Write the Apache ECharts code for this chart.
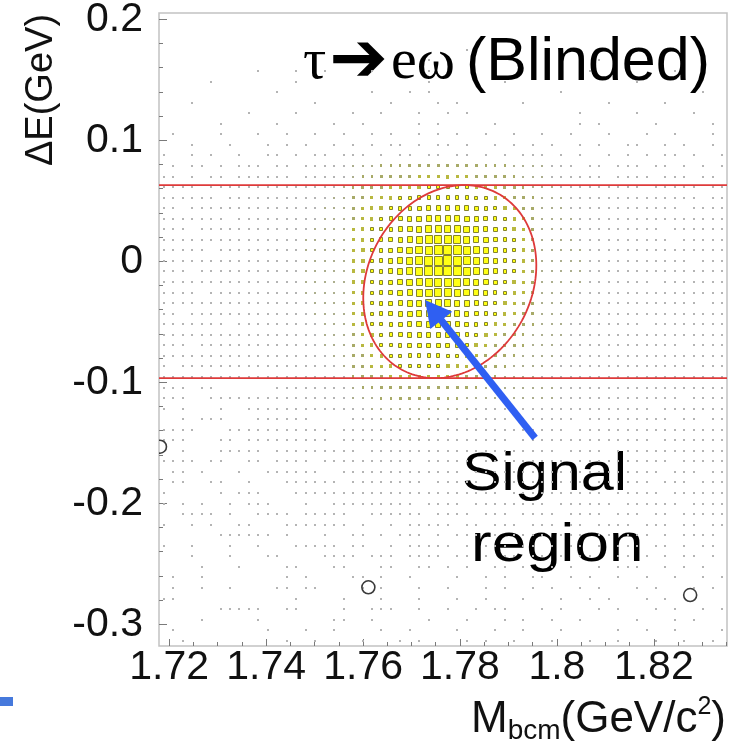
<!DOCTYPE html>
<html>
<head>
<meta charset="utf-8">
<script src="https://cdn.jsdelivr.net/npm/echarts@6/dist/echarts.min.js"></script>
<style>
html,body{margin:0;padding:0;background:#fff;}
#chart{width:745px;height:747px;}
</style>
</head>
<body>
<div id="chart"></div>
<script>
// Axis ranges; the 2D histogram spans the full frame with 60 x 60 bins
const X_RANGE = [1.7179, 1.8351];
const Y_RANGE = [-0.3179, 0.2052];
const N_BINS_X = 60, N_BINS_Y = 60;

const xTickLabels = ['1.72', '1.74', '1.76', '1.78', '1.8', '1.82'];
const yTickLabels = ['0.2', '0.1', '0', '-0.1', '-0.2', '-0.3'];

// Bin entries away from the signal peak: one string per ΔE row (top row first),
// one character per Mbcm column, '.' = empty bin
const bgRows = [
  '.......... .......... .......... .......... .......... ..........',
  '.......... .......... .......... .......... .......... ..........',
  '.......... .......... .......... .......... .......... ..........',
  '.......... .......... .......... ..1....... .......... ..........',
  '.......... .......... ........1. .......... ......1... ..........',
  '.......... 1...1..1.. ..1.....1. .......... .....1.... ....1.....',
  '.....1.... ....1..... ........1. ......1... .......... 1.........',
  '.......... ..1....... ..1...1.1. .......... ..1....... .......1..',
  '...1...... ......1... ....1....1 .1......1. .......1.. ...1......',
  '.........1 ....1..... 1..1...1.. 1.1....... ....1..... 1.....1...',
  '......1... ..1.....1. .1.....1.1 .....1.... ....1.1... ..1.....1.',
  '.1....1... 1..1..1..1 ..1.1..1.1 .1..1..1.. 1..1...1.. .1..1...1.',
  '...1...1.. .1.1.1..1. 1.1.11.1.1 1.1..1.1.1 .1..1.1..1 1..1.1..1.',
  '1..1.1..1. .11.1.11.1 11.1.11.11 .11.1.1.11 1.1.1..1.1 .1.11.1..1',
  '.1.11.1.11 1.11.11122 .......... .......... 3221.11.11 1.11.1.1.1',
  '11.1.11.11 1111.11222 .......... .......... 3222111.11 11.111.11.',
  '1111.11111 1111112223 .......... .......... 3322111111 1.11111.11',
  '111111.111 1111122233 .......... .......... 4332211111 1111111.11',
  '11.1111111 1112122334 .......... .......... 4332221111 11111.1111',
  '1111111.11 1112222334 .......... .......... 5433221111 1111111111',
  '111.111111 1122223345 .......... .......... 5433221111 111.111111',
  '1111111111 1122233445 .......... .......... 5443222111 1111.11111',
  '11111.1111 1122233445 .......... .......... 5443322111 1111111111',
  '1111111111 1222233455 .......... .......... 5443322211 111111.111',
  '111.111111 1222233455 .......... .......... 5443322111 1111111111',
  '1111111111 1122233445 .......... .......... 5433322111 11.1111111',
  '1111.11111 1122233445 .......... .......... 5433222111 1111111111',
  '1111111111 1122223344 .......... .......... 4433222111 1111111.11',
  '11.1111111 1112223344 .......... .......... 4332221111 1111111111',
  '1111111.11 1112222334 .......... .......... 4332211111 1.11111111',
  '1111111111 1111222334 .......... .......... 3332211111 1111111111',
  '111.111111 1111222333 .......... .......... 3322211111 11111.1111',
  '1111111111 1111122233 .......... .......... 3322111111 1111111111',
  '1.11111111 1111122223 .......... .......... 3222111111 111111.111',
  '1111111111 1111112222 .......... .......... 2222111111 1111111111',
  '111.11.... ..11111222 .......... .......... 3322211111 1111111111',
  '111..11111 1111111222 .......... .......... 3322111111 11111.1111',
  '1.1...1..1 1111111122 2233344443 3332222111 1111111111 11.1111111',
  '..1.111... 111111.... 2223333332 2222211.11 1111.11111 1111.11.11',
  '1111...111 11111111.1 2222222222 2221111111 111.111111 1111111111',
  '111...11.1 11111111.1 1122222222 2211111.11 1111111111 11.1111111',
  '..1...1111 1.11111111 1.11222221 1111111111 11.1111.11 1111111111',
  '1111.11..1 1.1111.111 1111111.11 111.111111 111.111111 1111.11111',
  '.11.1...1. .111111..1 1111111111 11.1111111 1111111111 111.111.11',
  '.11..11..1 ...111111. 11111111.1 1111.11111 11111.1111 11.111.111',
  '1.....1.11 1...111111 1111111111 111111.111 1111111.11 111.111111',
  '1.1.1..1.1 11...1..11 1111111.11 11.1111111 1.111111.1 11111.1111',
  '..1111.1.. 1111.11111 ..111111.1 111.111.11 11.1111.11 1.11.11111',
  '1..1.1..11 ...1111111 .1..1.1111 1.11.111.1 11.11.1111 .111.11.11',
  '......1111 11.1...1.. 11.1.111.1 .111.1.111 1.111.11.1 11.1.1111.',
  '1..1...1.. 1...11111. 11..1.1111 1.1.111.11 .1.11.1.11 1.11.1.11.',
  '...1...1.. .11....111 1.111.1111 .11.1.11.1 1.1.11..11 .1.1.11.1.',
  '....1...1. ...11...11 ...11..11. 1.1..11.1. .1.1..1.11 1..1.1.1..',
  '.1..1..... ...1.1.... 11.1..1... .1..1.1..1 1..1.1..1. .1..1..1.1',
  '.1..1..1.. ..11.11... .1.1...1.. 1...1.1..1 .1..1.1... 1.1...1.1.',
  '11........ ....1....1 ...1...1.. .1..1...1. ..1..1.1.. .1.1......',
  '......1111 1..11....1 ..111..1.. 1..1.11... 1.1...1.1. ..1.1..1.1',
  '....1..... 1.......11 ..1.....1. ..1...1.1. .1..1..... 1...1.1...',
  '.1........ .1...1..1. ...1..1... .1...1..1. ..1.....1. .1..1....1',
  '..1....... ...1..1... .1...1.1.. ..1.1..1.. .1...1..1. ..1..1..1.'
];

// Entries around the signal peak: rows 14..36 (top first), columns 20..39
const CORE_ROW0 = 14, CORE_COL0 = 20;
const coreCounts = [
  [4,5,5,6,6,6,7,7,8,8,8,8,7,7,6,6,6,5,5,4],
  [5,6,6,7,8,8,9,10,11,11,12,11,10,9,8,7,7,6,5,4],
  [6,7,8,9,10,11,12,14,15,16,16,15,15,13,12,10,8,7,6,5],
  [7,8,10,11,13,15,17,19,21,22,22,21,20,18,15,13,11,9,7,6],
  [8,10,12,14,16,19,22,26,30,32,32,31,28,24,20,17,14,11,9,7],
  [9,11,13,16,19,24,29,35,40,43,43,41,37,32,26,21,16,13,10,8],
  [10,12,15,18,22,28,36,45,53,58,58,55,48,40,31,24,18,14,11,8],
  [11,13,16,20,25,33,44,56,68,75,75,70,60,47,36,27,19,15,11,9],
  [11,14,17,21,27,36,49,64,80,88,88,82,68,53,39,28,20,15,12,9],
  [12,14,18,22,28,38,52,68,86,97,100,90,74,56,41,30,21,15,12,9],
  [12,14,18,22,28,38,51,67,83,92,92,85,70,53,39,28,20,15,11,9],
  [12,14,17,21,27,36,48,61,74,80,79,72,60,46,34,25,18,14,11,8],
  [11,13,17,21,26,34,44,55,63,67,65,59,49,38,29,21,16,12,10,8],
  [11,13,16,20,25,31,39,47,53,55,53,47,39,31,24,18,14,11,9,7],
  [10,12,16,19,24,29,35,41,45,45,43,38,32,26,20,16,12,10,8,7],
  [10,12,15,18,22,27,32,36,38,38,35,31,26,21,17,13,11,8,7,6],
  [9,11,14,17,20,24,28,31,32,31,29,25,21,17,14,11,9,7,6,5],
  [8,10,12,15,18,21,24,26,26,25,23,20,17,14,11,9,8,7,6,5],
  [8,9,11,13,15,18,20,21,21,20,18,16,14,11,9,8,7,6,5,4],
  [7,8,10,11,13,15,16,16,16,15,14,12,11,9,8,7,6,5,4,4],
  [6,7,8,9,10,12,12,12,12,12,11,10,9,8,7,6,5,4,4,3],
  [5,6,6,7,8,9,9,9,9,9,8,8,7,6,5,5,4,4,3,3],
  [5,5,5,6,6,7,7,7,7,7,6,6,5,5,5,4,4,3,3,3]
];

// Observed events (open circles)
const obsMbcm = [1.7181, 1.7611, 1.8275];
const obsDeltaE = [-0.1532, -0.2694, -0.2758];

// ΔE band cuts and the signal-region ellipse
const deltaECuts = [0.063, -0.0965];
const sigEllipse = { m0: 1.7779, de0: -0.01675, halfM: 0.0176, shearM: 0.003, halfDE: 0.07975 };

// Pointer from the "Signal region" label into the peak
const pointerFrom = [1.7955, -0.146];
const pointerTo = [1.7728, -0.032];

// ---------------------------------------------------------------------------
const FONT_SANS = '"Liberation Sans", Arial, Helvetica, sans-serif';
const FONT_SERIF = '"Liberation Serif", "Times New Roman", serif';

const dM = (X_RANGE[1] - X_RANGE[0]) / N_BINS_X;
const dDE = (Y_RANGE[1] - Y_RANGE[0]) / N_BINS_Y;

const binData = [];
bgRows.forEach((row, j) => {
  const cells = row.replace(/ /g, '');
  for (let i = 0; i < N_BINS_X; i++) {
    const ch = cells[i] || '.';
    let n = ch === '.' ? 0 : Number(ch);
    const cj = j - CORE_ROW0, ci = i - CORE_COL0;
    if (cj >= 0 && cj < coreCounts.length && ci >= 0 && ci < coreCounts[cj].length) n = coreCounts[cj][ci];
    if (n > 0) binData.push([X_RANGE[0] + (i + 0.5) * dM, Y_RANGE[1] - (j + 0.5) * dDE, n]);
  }
});
const nMax = Math.max(...binData.map(d => d[2]));

const xMajor = xTickLabels.map(Number);
const yMajor = yTickLabels.map(Number);
const xMinor = [];
for (let k = 344; k <= 367; k++) xMinor.push(+(k * 0.005).toFixed(3));
const yMinor = [];
for (let k = -15; k <= 10; k++) yMinor.push(+(k * 0.02).toFixed(2));

function labelFor(values, labels) {
  return v => {
    const k = values.findIndex(t => Math.abs(t - v) < 1e-9);
    return k >= 0 ? labels[k] : '';
  };
}

function binColor(n) {
  if (n <= 2) return '#b4b4b4';
  if (n <= 5) return '#acae8e';
  if (n <= 9) return '#a8aa68';
  return '#b8b840';
}

// Box drawing: box edge scales with sqrt(entries / max)
function renderBin(params, api) {
  const n = api.value(2);
  const c = api.coord([api.value(0), api.value(1)]);
  const cell = api.size([dM, dDE]);
  const r = Math.sqrt(n / nMax);
  const w = Math.max(2, Math.round(cell[0] * r));
  const h = Math.max(2, Math.round(cell[1] * r));
  const x0 = Math.round(c[0] - w / 2), y0 = Math.round(c[1] - h / 2);
  if (n >= 15) {
    return {
      type: 'rect',
      shape: { x: x0 + 0.5, y: y0 + 0.5, width: w - 1, height: h - 1 },
      style: { fill: '#ffff14', stroke: '#84842c', lineWidth: 1 }
    };
  }
  return { type: 'rect', shape: { x: x0, y: y0, width: w, height: h }, style: { fill: binColor(n) } };
}

// Red ΔE cut lines and the signal ellipse
function renderCuts(params, api) {
  const children = [];
  deltaECuts.forEach(de => {
    const a = api.coord([X_RANGE[0], de]), b = api.coord([X_RANGE[1], de]);
    children.push({ type: 'line', shape: { x1: a[0], y1: a[1], x2: b[0], y2: b[1] },
      style: { stroke: '#de3a3a', lineWidth: 1.8 } });
  });
  const pts = [];
  for (let k = 0; k <= 180; k++) {
    const t = (k / 180) * Math.PI * 2;
    const m = sigEllipse.m0 + sigEllipse.halfM * Math.cos(t) + sigEllipse.shearM * Math.sin(t);
    const de = sigEllipse.de0 + sigEllipse.halfDE * Math.sin(t);
    pts.push(api.coord([m, de]));
  }
  children.push({ type: 'polyline', shape: { points: pts },
    style: { stroke: '#de3a3a', lineWidth: 1.8, fill: null } });
  return { type: 'group', children };
}

function renderPointer(params, api) {
  const a = api.coord(pointerFrom), b = api.coord(pointerTo);
  const dx = b[0] - a[0], dy = b[1] - a[1];
  const len = Math.hypot(dx, dy), ux = dx / len, uy = dy / len;
  const headLen = 26, headHalf = 14;
  const bx = b[0] - ux * headLen, by = b[1] - uy * headLen;
  return {
    type: 'group',
    children: [
      { type: 'line', shape: { x1: a[0], y1: a[1], x2: bx + ux * 2, y2: by + uy * 2 },
        style: { stroke: '#2f5ff2', lineWidth: 7 } },
      { type: 'polygon', shape: { points: [[b[0], b[1]], [bx - uy * headHalf, by + ux * headHalf], [bx + uy * headHalf, by - ux * headHalf]] },
        style: { fill: '#2f5ff2' } }
    ]
  };
}

function renderEvent(params, api) {
  const c = api.coord([api.value(0), api.value(1)]);
  return { type: 'circle', shape: { cx: c[0], cy: c[1], r: 6.5 },
    style: { fill: null, stroke: '#3a3a3a', lineWidth: 1.6 } };
}

const tickStyle = { color: '#7a7a7a', width: 1 };
const labelStyle = { fontSize: 41, fontFamily: FONT_SANS, color: '#111' };
const noAxisLine = { show: false, onZero: false };

const chart = echarts.init(document.getElementById('chart'), null, { renderer: 'canvas' });
chart.setOption({
  animation: false,
  backgroundColor: '#fff',
  grid: { left: 159, top: 13, right: 18, bottom: 101, show: true, borderColor: '#c2c2c2', borderWidth: 1.5,
    backgroundColor: 'transparent', containLabel: false, outerBoundsMode: 'none' },
  xAxis: [
    { type: 'value', min: X_RANGE[0], max: X_RANGE[1], position: 'bottom',
      axisLine: noAxisLine, splitLine: { show: false },
      axisTick: { show: true, inside: true, length: 7, customValues: xMajor, lineStyle: tickStyle },
      axisLabel: Object.assign({ customValues: xMajor, formatter: labelFor(xMajor, xTickLabels), margin: 1 }, labelStyle) },
    { type: 'value', min: X_RANGE[0], max: X_RANGE[1], position: 'bottom',
      axisLine: noAxisLine, splitLine: { show: false }, axisLabel: { show: false },
      axisTick: { show: true, inside: true, length: 4, customValues: xMinor, lineStyle: tickStyle } }
  ],
  yAxis: [
    { type: 'value', min: Y_RANGE[0], max: Y_RANGE[1], position: 'left',
      axisLine: noAxisLine, splitLine: { show: false },
      axisTick: { show: true, inside: true, length: 8, customValues: yMajor, lineStyle: tickStyle },
      axisLabel: Object.assign({ customValues: yMajor, formatter: labelFor(yMajor, yTickLabels), margin: 16 }, labelStyle) },
    { type: 'value', min: Y_RANGE[0], max: Y_RANGE[1], position: 'left',
      axisLine: noAxisLine, splitLine: { show: false }, axisLabel: { show: false },
      axisTick: { show: true, inside: true, length: 4, customValues: yMinor, lineStyle: tickStyle } }
  ],
  series: [
    { type: 'custom', name: 'bins', silent: true, renderItem: renderBin, data: binData, z: 2 },
    { type: 'custom', name: 'cuts', silent: true, renderItem: renderCuts, data: [[0]], z: 3 },
    { type: 'custom', name: 'events', silent: true, clip: true, renderItem: renderEvent,
      data: obsMbcm.map((m, k) => [m, obsDeltaE[k]]), z: 4 },
    { type: 'custom', name: 'pointer', silent: true, renderItem: renderPointer, data: [[0]], z: 5 }
  ],
  graphic: [
    { type: 'rect', x: 0, y: 697, shape: { x: 0, y: 0, width: 13, height: 9 }, style: { fill: '#4679dc' } },
    { type: 'text', x: 42, y: 90, rotation: Math.PI / 2,
      style: { text: 'ΔE(GeV)', fontSize: 38, fontFamily: FONT_SANS, fill: '#111',
        align: 'center', verticalAlign: 'middle', textAlign: 'center', textVerticalAlign: 'middle' } },
    { type: 'text', x: 726, y: 720,
      style: { text: '{a|M}{b|bcm}{a|(GeV/c}{c|2}{a|)}', fill: '#111',
        align: 'right', verticalAlign: 'middle', textAlign: 'right', textVerticalAlign: 'middle',
        rich: {
          a: { fontSize: 44, fontFamily: FONT_SANS, lineHeight: 50 },
          b: { fontSize: 28, fontFamily: FONT_SANS, lineHeight: 20, verticalAlign: 'bottom' },
          c: { fontSize: 25, fontFamily: FONT_SANS, lineHeight: 20, verticalAlign: 'top' }
        } } },
    { type: 'text', x: 303, y: 63,
      style: { text: '{g|τ}{r|➔}{g|eω}{s|(Blinded)}', fill: '#000',
        align: 'left', verticalAlign: 'middle', textAlign: 'left', textVerticalAlign: 'middle',
        rich: {
          g: { fontSize: 58, fontFamily: FONT_SERIF, lineHeight: 64 },
          r: { fontSize: 70, fontFamily: '"DejaVu Sans", sans-serif', lineHeight: 64, padding: [0, 3, 0, 3] },
          s: { fontSize: 61, fontFamily: FONT_SANS, lineHeight: 64, padding: [0, 0, 0, 11] }
        } } },
    { type: 'text', x: 462, y: 475, scaleX: 1.12,
      style: { text: 'Signal', fontSize: 53, fontFamily: FONT_SANS, fill: '#000',
        align: 'left', verticalAlign: 'middle', textAlign: 'left', textVerticalAlign: 'middle' } },
    { type: 'text', x: 471, y: 546, scaleX: 1.17,
      style: { text: 'region', fontSize: 53, fontFamily: FONT_SANS, fill: '#000',
        align: 'left', verticalAlign: 'middle', textAlign: 'left', textVerticalAlign: 'middle' } }
  ]
});
</script>
</body>
</html>
